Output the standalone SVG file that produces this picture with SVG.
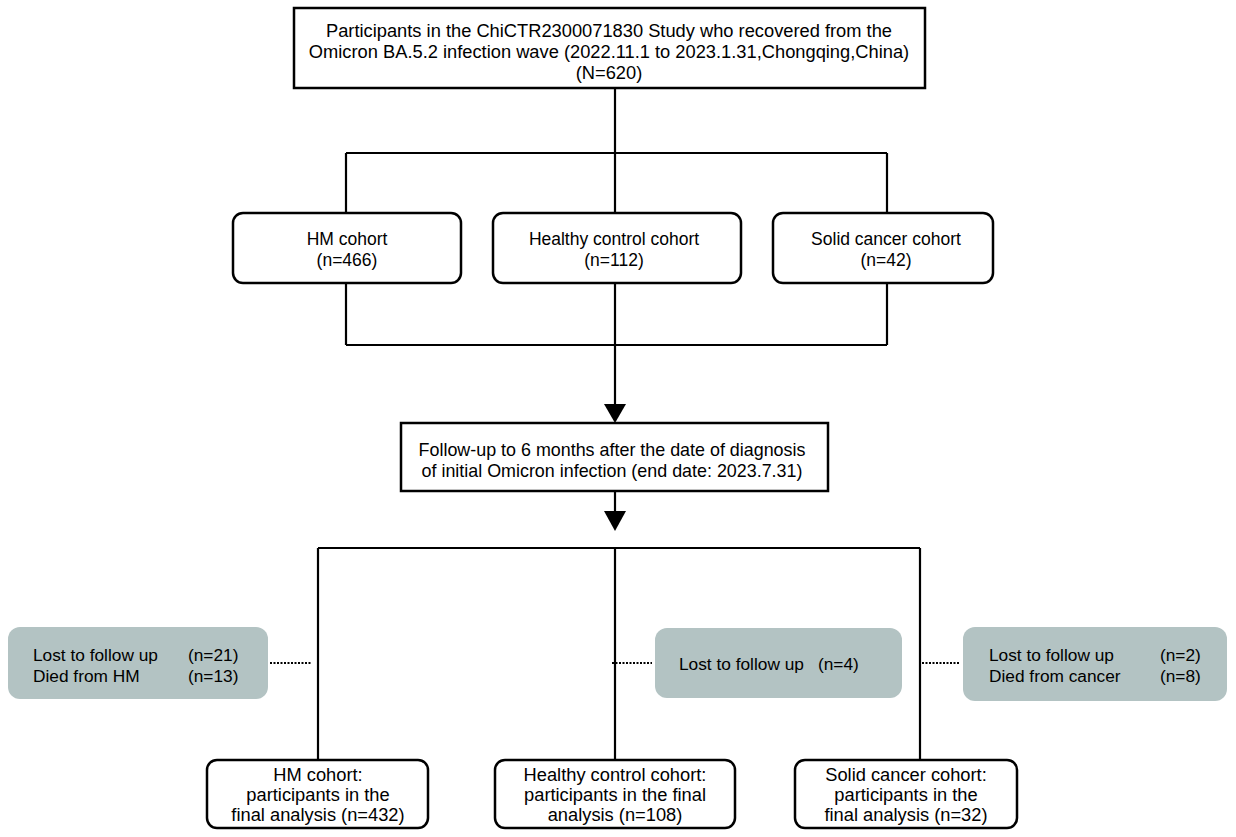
<svg xmlns="http://www.w3.org/2000/svg" width="1236" height="837" viewBox="0 0 1236 837">
<style>
  .box{fill:#fff;stroke:#000;stroke-width:2.5}
  .gray{fill:#b3c3c3;stroke:none}
  .t{font-family:"Liberation Sans",Arial,sans-serif;font-size:17.5px;fill:#000;text-anchor:middle}
  .tl{font-family:"Liberation Sans",Arial,sans-serif;font-size:17.3px;fill:#000}
  .big{font-size:18.3px}
  .fu{font-size:17.9px}
  .bt{font-size:18.3px}
  .ln{fill:none;stroke:#000;stroke-width:2.2}
  .dot{fill:none;stroke:#000;stroke-width:2.2;stroke-dasharray:2,1.5}
</style>
<rect width="1236" height="837" fill="#fff"/>
<g id="connectors">
  <path class="ln" d="M615,88 V153 M346,153 H887 M346,153 V213 M615,153 V213 M887,153 V213"/>
  <path class="ln" d="M346,283 V345 M887,283 V345 M346,345 H887 M615,283 V405"/>
  <path d="M604,404 L626,404 L615,423 Z" fill="#000"/>
  <path class="ln" d="M615,491 V512"/>
  <path d="M604,511 L626,511 L615,531 Z" fill="#000"/>
  <path class="ln" d="M318,548 H920 M318,548 V760 M615,548 V760 M920,548 V760"/>
  <path class="dot" d="M270,663 H311 M612,663 H652 M922,663 H960"/>
</g>
<g id="top">
  <rect class="box" x="294" y="8" width="631" height="80"/>
  <text class="t big" x="609" y="37">Participants in the ChiCTR2300071830 Study who recovered from the</text>
  <text class="t big" x="609" y="58">Omicron BA.5.2 infection wave (2022.11.1 to 2023.1.31,Chongqing,China)</text>
  <text class="t big" x="609" y="79">(N=620)</text>
</g>
<g id="hm">
  <rect class="box" x="233" y="213" width="228" height="70" rx="10"/>
  <text class="t" x="347" y="245">HM cohort</text>
  <text class="t" x="347" y="266">(n=466)</text>
</g>
<g id="healthy">
  <rect class="box" x="493" y="213" width="248" height="70" rx="10"/>
  <text class="t" x="614" y="245">Healthy control cohort</text>
  <text class="t" x="614" y="266">(n=112)</text>
</g>
<g id="solid">
  <rect class="box" x="773" y="213" width="220" height="70" rx="10"/>
  <text class="t" x="886" y="245">Solid cancer cohort</text>
  <text class="t" x="886" y="266">(n=42)</text>
</g>
<g id="followup">
  <rect class="box" x="401" y="423" width="427" height="68"/>
  <text class="t fu" x="612" y="456">Follow-up to 6 months after the date of diagnosis</text>
  <text class="t fu" x="612" y="477">of initial Omicron infection (end date: 2023.7.31)</text>
</g>
<g id="excl-hm">
  <rect class="gray" x="8" y="627" width="260" height="72" rx="12"/>
  <text class="tl" x="33" y="661">Lost to follow up</text>
  <text class="tl" x="188" y="661">(n=21)</text>
  <text class="tl" x="33" y="682">Died from HM</text>
  <text class="tl" x="188" y="682">(n=13)</text>
</g>
<g id="excl-healthy">
  <rect class="gray" x="655" y="628" width="247" height="70" rx="12"/>
  <text class="tl" x="679" y="670">Lost to follow up</text>
  <text class="tl" x="818" y="670">(n=4)</text>
</g>
<g id="excl-solid">
  <rect class="gray" x="963" y="627" width="264" height="74" rx="12"/>
  <text class="tl" x="989" y="661">Lost to follow up</text>
  <text class="tl" x="1160" y="661">(n=2)</text>
  <text class="tl" x="989" y="682">Died from cancer</text>
  <text class="tl" x="1160" y="682">(n=8)</text>
</g>
<g id="final-hm">
  <rect class="box" x="207" y="760" width="221" height="68" rx="10"/>
  <text class="t bt" x="318" y="781">HM cohort:</text>
  <text class="t bt" x="318" y="801">participants in the</text>
  <text class="t bt" x="318" y="821">final analysis (n=432)</text>
</g>
<g id="final-healthy">
  <rect class="box" x="495" y="760" width="240" height="68" rx="10"/>
  <text class="t bt" x="615" y="781">Healthy control cohort:</text>
  <text class="t bt" x="615" y="801">participants in the final</text>
  <text class="t bt" x="615" y="821">analysis (n=108)</text>
</g>
<g id="final-solid">
  <rect class="box" x="795" y="760" width="222" height="68" rx="10"/>
  <text class="t bt" x="906" y="781">Solid cancer cohort:</text>
  <text class="t bt" x="906" y="801">participants in the</text>
  <text class="t bt" x="906" y="821">final analysis (n=32)</text>
</g>
</svg>
